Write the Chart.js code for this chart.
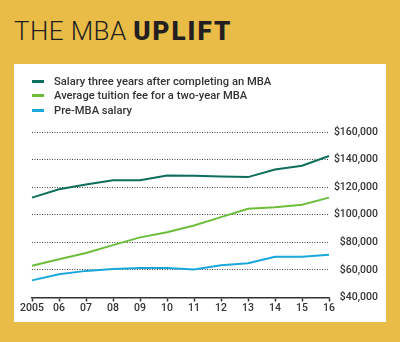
<!DOCTYPE html>
<html lang="en">
  <head>
    <meta charset="UTF-8" />
    <title>The MBA uplift</title>
    <script src="https://cdn.jsdelivr.net/npm/chart.js@4"></script>
    <style>
      body { margin: 0; width: 400px; height: 342px; background: #e9bc48; font-family: Roboto, sans-serif; position: relative; overflow: hidden; }
      #title { position: absolute; left: 14px; top: 16px; font-size: 26px; color: #231f20; white-space: nowrap; letter-spacing: 0.4px; }
      #title .thin { font-weight: 300; }
      #title .bold { font-weight: 900; letter-spacing: 2px; }
      #panel { position: absolute; left: 14px; top: 64px; width: 372px; height: 258px; background: #fff; }
      #legend { position: absolute; left: 18px; top: 10px; font-size: 11.2px; font-weight: 500; color: #333; }
      #legend div { display: flex; align-items: center; height: 14px; margin-bottom: 0.5px; }
      #legend span.sw { display: inline-block; width: 12px; height: 3px; margin-right: 10px; }
    </style>
  </head>
  <body>
    <div id="title"><span class="thin">THE MBA </span><span class="bold">UPLIFT</span></div>
    <div id="panel">
      <div id="legend"></div>
      <canvas id="chart" width="372" height="258"></canvas>
    </div>
    <script>
      // data
      const years = ["2005", "06", "07", "08", "09", "10", "11", "12", "13", "14", "15", "16"];
      const salaryAfter = [112400, 118500, 122000, 125000, 125000, 128500, 128200, 127800, 127300, 132800, 135600, 142600];
      const tuition = [63000, 67800, 72300, 78000, 83600, 87300, 92200, 98300, 104400, 105400, 107200, 112400];
      const preSalary = [52400, 56800, 59300, 60700, 61300, 61300, 60300, 63400, 64900, 69500, 69500, 71000];
      const yTicks = [40000, 60000, 80000, 100000, 120000, 140000, 160000];

      const series = [
        { label: "Salary three years after completing an MBA", data: salaryAfter, color: "#0d6e5b" },
        { label: "Average tuition fee for a two-year MBA", data: tuition, color: "#6cbd3c" },
        { label: "Pre-MBA salary", data: preSalary, color: "#1aa8dc" },
      ];

      // legend as html
      const legend = document.getElementById("legend");
      series.forEach((s) => {
        const row = document.createElement("div");
        row.innerHTML = `<span class="sw" style="background:${s.color}"></span>${s.label}`;
        legend.appendChild(row);
      });

      const tickFont = { family: "Roboto", size: 10.5, weight: 500 };

      new Chart(document.getElementById("chart"), {
        type: "line",
        data: {
          labels: years,
          datasets: series.map((s) => ({
            label: s.label,
            data: s.data,
            borderColor: s.color,
            borderWidth: 2,
            pointRadius: 0,
            tension: 0,
          })),
        },
        options: {
          responsive: false,
          animation: false,
          layout: { padding: { left: 18, top: 68, right: 8, bottom: 0 } },
          plugins: { legend: { display: false }, tooltip: { enabled: false } },
          scales: {
            x: {
              offset: false,
              grid: { drawOnChartArea: false, drawTicks: true, tickLength: 4, tickColor: "#333", tickWidth: 1.5 },
              border: { display: true, color: "#333", width: 1.5 },
              ticks: { color: "#333", font: tickFont, padding: 1, maxRotation: 0, autoSkip: false },
              afterFit: (scale) => { scale.height = 24.5; },
            },
            y: {
              position: "right",
              min: 40000,
              max: 160000,
              afterBuildTicks: (scale) => { scale.ticks = yTicks.map((v) => ({ value: v })); },
              grid: {
                drawTicks: false,
                color: (ctx) => (ctx.tick && ctx.tick.value === 40000 ? "rgba(0,0,0,0)" : "#444"),
                lineWidth: 1,
              },
              border: { display: false, dash: [1, 1.5] },
              ticks: {
                color: "#333",
                font: tickFont,
                crossAlign: "far",
                callback: (v) => "$" + v.toLocaleString("en-US"),
              },
              afterFit: (scale) => { scale.width = 49; },
            },
          },
        },
      });
    </script>
  </body>
</html>
